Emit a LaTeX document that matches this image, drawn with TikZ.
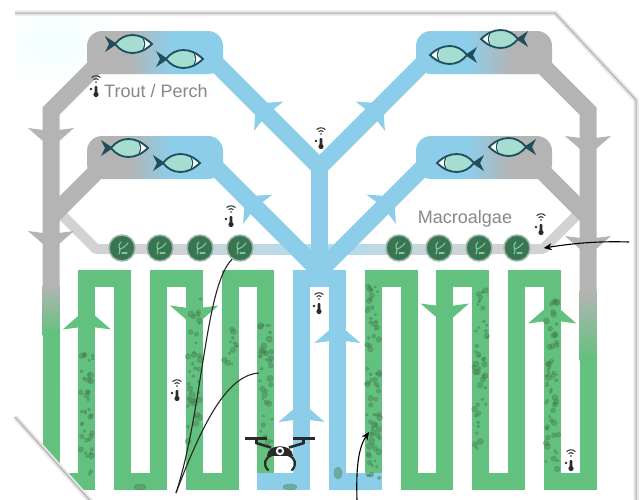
\documentclass[tikz,border=0pt]{standalone}
\usepackage{fontspec}
\setmainfont{Liberation Sans}
\usetikzlibrary{arrows.meta}
\definecolor{pipeblue}{RGB}{140,206,234}
\definecolor{pipegray}{RGB}{180,180,180}
\definecolor{pipegreen}{RGB}{98,193,127}
\definecolor{railgray}{RGB}{210,210,210}
\definecolor{railblue}{RGB}{178,220,238}
\definecolor{algaedark}{RGB}{58,116,82}
\definecolor{algaeleaf}{RGB}{125,205,150}
\definecolor{algaespot}{RGB}{72,128,84}
\definecolor{fishfill}{RGB}{165,221,208}
\definecolor{fishline}{RGB}{30,77,92}
\definecolor{labelgray}{RGB}{135,135,135}
\definecolor{inkdark}{RGB}{42,42,42}
% tank fill: gray outlet side fading into the blue inlet side
\pgfdeclarehorizontalshading{tankgrayleft}{100bp}{color(0bp)=(pipegray); color(40bp)=(pipegray); color(56bp)=(pipeblue); color(100bp)=(pipeblue)}
\pgfdeclarehorizontalshading{tankgrayright}{100bp}{color(0bp)=(pipeblue); color(44bp)=(pipeblue); color(60bp)=(pipegray); color(100bp)=(pipegray)}
\tikzset{
    pipe/.style={line width=17pt, line join=miter},
    bluepipe/.style={pipe, pipeblue},
    graypipe/.style={pipe, pipegray},
    greenpipe/.style={pipe, pipegreen},
    rail/.style={line width=10pt, railgray, line join=round},
    fishbody/.style={fill=fishfill, draw=fishline, line width=1.8pt},
    algadisc/.style={circle, minimum size=26pt, inner sep=0pt, fill=algaedark, draw=algaedark!50!white, line width=1.5pt},
    leafline/.style={algaeleaf, line width=1.1pt, line cap=round},
    algaespot/.style={fill=algaespot, fill opacity=0.45, draw=algaespot, draw opacity=0.5, line width=0.4pt},
    tanklabel/.style={text=labelgray, font=\fontsize{18}{20}\selectfont, inner sep=0pt},
    pointer/.style={-{Stealth[length=8pt,width=7pt]}, line width=1.1pt, black},
    probe/.style={line width=1.1pt, black!85}
}
% barbed flow marker sitting on a pipe: x, y, angle, colour, scale
\newcommand\flowtip[5]{%
  \fill[#4,shift={(#1,#2)},rotate=#3,scale=#5] (0,-11) -- (-23,9) -- (0,6) -- (23,9) -- cycle;}
% fish: x, y, facing (1 right, -1 left)
\newcommand\fishicon[3]{%
  \begin{scope}[shift={(#1,#2)},xscale=#3]
    \fill[fishline] (-13,0) -- (-25,-8) -- (-21,0) -- (-25,8) -- cycle;
    \filldraw[fishbody] (-15,0) .. controls (-6,-12) and (10,-12) .. (22,0) .. controls (10,12) and (-6,12) .. (-15,0) -- cycle;
    \fill[white] (13,-5.5) .. controls (17,-3) .. (20,0) .. controls (17,3) .. (13,5.5) -- cycle;
    \draw[fishline,line width=1.2pt] (13,-6.5) .. controls (15,0) .. (13,6.5);
  \end{scope}}
% wifi thermometer probe
\newcommand\sensoricon[2]{%
  \begin{scope}[shift={(#1,#2)},inkdark]
    \fill (1,-6) circle[radius=0.9];
    \draw[line width=1pt] (1,-6) ++(225:3.4) arc[start angle=225,end angle=315,radius=3.4];
    \draw[line width=1pt] (1,-6) ++(225:6.2) arc[start angle=225,end angle=315,radius=6.2];
    \fill[rounded corners=1pt] (-0.4,-2) rectangle (2.4,6);
    \fill (1,6.5) circle[radius=2.6];
    \fill (-4,1) circle[radius=1.3];
  \end{scope}}
% speckles of algae growing in a raceway lane: x, ytop, ybottom, count
\newcommand\algaepatch[4]{%
  \foreach \k in {1,...,#4}{%
    \pgfmathsetmacro\ax{#1+6.5*rand}%
    \pgfmathsetmacro\ay{#2+(#3-#2)*rnd}%
    \pgfmathsetmacro\ar{1.1+2.1*rnd}%
    \filldraw[algaespot] (\ax,\ay) circle[radius=\ar];
  }}

\begin{document}
\begin{tikzpicture}[x=1pt,y=-1pt]
    \pgfmathsetseed{11}
    \useasboundingbox (0,0) rectangle (644,499);
    \fill[white] (0,0) rectangle (644,499);
    \begin{scope}
    \clip (15,13) -- (555,13) -- (636,100) -- (636,505) -- (94,505) -- (15,417) -- cycle;
    \shade[inner color=cyan!5, outer color=white] (55,45) ellipse[x radius=75, y radius=40];

    % Algae rails
    \draw[rail] (51,204) -- (96,249) -- (319.5,249);
    \draw[rail] (588,204) -- (543,249) -- (319.5,249);
    \shade[left color=railgray, right color=railblue] (150,244) rectangle (319.5,254);
    \shade[left color=railblue, right color=railgray] (319.5,244) rectangle (489,254);

    % Return lines (gray)
    \draw[graypipe] (100,62) -- (51,111) -- (51,285);
    \draw[graypipe] (100,168) -- (51,217);
    \shade[top color=pipegray, bottom color=pipegreen] (42.5,285) rectangle (59.5,335);
    \draw[graypipe] (539,62) -- (588,111) -- (588,290);
    \draw[graypipe] (539,168) -- (588,217);
    \shade[top color=pipegray, bottom color=pipegreen] (579.5,290) rectangle (596.5,360);

    % Supply lines (blue)
    \draw[bluepipe] (214.5,62) -- (319.5,167) -- (424.5,62);
    \draw[bluepipe] (214.5,166) -- (319.5,271) -- (424.5,166);
    \draw[bluepipe] (319.5,167) -- (319.5,278.5);

    % Fish tanks
    \shade[shading=tankgrayleft, rounded corners=15pt] (87,31) rectangle (223,74);
    \shade[shading=tankgrayleft, rounded corners=15pt] (87,136) rectangle (223,179);
    \shade[shading=tankgrayright, rounded corners=15pt] (416,31) rectangle (552,74);
    \shade[shading=tankgrayright, rounded corners=15pt] (416,136) rectangle (552,179);
    \fishicon{130}{44}{1}
    \fishicon{181}{59}{1}
    \fishicon{126}{148}{1}
    \fishicon{178}{163}{1}
    \fishicon{452}{55}{-1}
    \fishicon{503}{39}{-1}
    \fishicon{459}{163}{-1}
    \fishicon{511}{147}{-1}

    % Raceways
    \draw[greenpipe] (51,330) -- (51,481.5) -- (86.8,481.5) -- (86.8,278.5) -- (122.6,278.5) -- (122.6,481.5)
        -- (158.4,481.5) -- (158.4,278.5) -- (194.2,278.5) -- (194.2,481.5) -- (230,481.5) -- (230,278.5)
        -- (265.8,278.5) -- (265.8,473);
    \draw[greenpipe] (373.2,473) -- (373.2,278.5) -- (409,278.5) -- (409,481.5) -- (444.8,481.5)
        -- (444.8,278.5) -- (480.6,278.5) -- (480.6,481.5) -- (516.4,481.5) -- (516.4,278.5)
        -- (552.2,278.5) -- (552.2,481.5) -- (588,481.5) -- (588,355);
    \draw[bluepipe, line cap=rect] (265.8,481.5) -- (301.6,481.5) -- (301.6,278.5) -- (337.4,278.5)
        -- (337.4,481.5) -- (373.2,481.5);

    % Flow markers
    \flowtip{51}{137}{180}{pipegray}{1}
    \flowtip{51}{240}{180}{pipegray}{1}
    \flowtip{588}{145}{180}{pipegray}{1}
    \flowtip{588}{245}{180}{pipegray}{1}
    \flowtip{263}{110.5}{45}{pipeblue}{0.9}
    \flowtip{376}{110.5}{-45}{pipeblue}{0.9}
    \flowtip{252}{203.5}{45}{pipeblue}{0.9}
    \flowtip{387}{203.5}{-45}{pipeblue}{0.9}
    \flowtip{301.6}{413}{0}{pipeblue}{1}
    \flowtip{337.4}{334}{0}{pipeblue}{1}
    \flowtip{86.8}{320}{0}{pipegreen}{1.05}
    \flowtip{194.2}{315}{180}{pipegreen}{1.05}
    \flowtip{444.8}{313}{180}{pipegreen}{1.05}
    \flowtip{552.2}{314}{0}{pipegreen}{1.05}

    % Algae growth
    \algaepatch{86.8}{350}{478}{40}
    \algaepatch{194.2}{298}{445}{40}
    \algaepatch{230}{325}{372}{12}
    \algaepatch{265.8}{325}{445}{38}
    \algaepatch{373.2}{285}{478}{70}
    \algaepatch{480.6}{290}{450}{45}
    \algaepatch{552.2}{300}{470}{60}
    \filldraw[algaespot] (140,487) ellipse[x radius=6, y radius=3];
    \filldraw[algaespot] (290,487) ellipse[x radius=7, y radius=3];
    \filldraw[algaespot] (338,473) ellipse[x radius=4, y radius=6];

    % Macroalgae discs
    \node[algadisc] (alg1) at (122,248) {};
    \node[algadisc] (alg2) at (160,248) {};
    \node[algadisc] (alg3) at (200,248) {};
    \node[algadisc] (alg4) at (240,248) {};
    \node[algadisc] (alg5) at (399,248) {};
    \node[algadisc] (alg6) at (439,248) {};
    \node[algadisc] (alg7) at (479,248) {};
    \node[algadisc] (alg8) at (517,248) {};
    \foreach \d in {1,...,8}{
        \begin{scope}[shift={(alg\d.center)}]
            \draw[leafline] (-3,6) .. controls (0,1) and (-6,-2) .. (-1,-6);
            \draw[leafline] (-2,1) .. controls (2,0) and (4,-3) .. (6,-5);
            \draw[leafline] (0,5) -- (5,5);
        \end{scope}
    }

    % Probes and labels
    \sensoricon{95}{88}
    \sensoricon{320}{140}
    \sensoricon{230}{218}
    \sensoricon{540}{226}
    \sensoricon{318}{305}
    \sensoricon{176}{392}
    \sensoricon{570}{462}
    \node[tanklabel, anchor=west] (troutlabel) at (104,91) {Trout / Perch};
    \node[tanklabel] (algaelabel) at (465,219) {Macroalgae};

    % Drone
    \begin{scope}[inkdark]
        \fill (245,436.5) rectangle (267,439.5);
        \fill (293,436.5) rectangle (315,439.5);
        \fill (254.8,438) rectangle (257.6,444);
        \fill (302.4,438) rectangle (305.2,444);
        \draw[line width=2.6pt] (256,443) -- (271,447.5);
        \draw[line width=2.6pt] (304,443) -- (289,447.5);
        \fill (267,456) .. controls (267,443) and (293,443) .. (293,456) -- cycle;
        \fill[white] (280,451) circle[radius=4.2];
        \fill (280,451) circle[radius=2];
        \draw[line width=2.2pt, line cap=round] (272,455) .. controls (264,458) and (263,465) .. (268,470);
        \draw[line width=2.2pt, line cap=round] (288,455) .. controls (296,458) and (297,465) .. (292,470);
    \end{scope}

    % Sampling lines and feed arrows
    \coordinate (tether) at (176,493);
    \coordinate (gsample) at (259,373);
    \coordinate (feedsrc) at (629,242);
    \coordinate (dropin) at (357,500);
    \coordinate (hsample) at (369,432);
    \draw[probe] (tether) .. controls (203,410) and (205,285) .. (alg4.235);
    \draw[probe] (tether) .. controls (200,430) and (225,375) .. (gsample);
    \draw[pointer] (feedsrc) .. controls (600,241) and (575,243) .. ([xshift=13pt]alg8.east);
    \draw[pointer] (dropin) .. controls (356,470) and (358,448) .. (hsample);
    \end{scope}

    % Panel edge
    \draw[black!10, line width=5pt] (15,13) -- (555,13) -- (636,100) -- (636,505) (94,505) -- (15,417) -- cycle;
    \draw[black!32, line width=1pt] (15,13) -- (555,13) -- (636,100) -- (636,505) (94,505) -- (15,417) -- cycle;
\end{tikzpicture}
\end{document}
